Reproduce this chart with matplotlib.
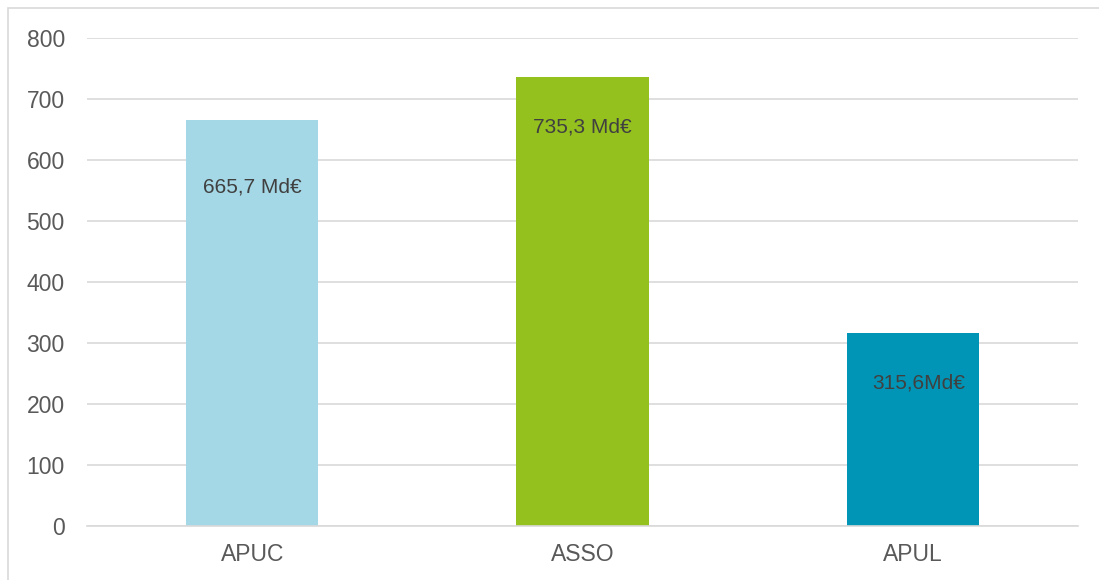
import matplotlib.pyplot as plt
from matplotlib.patches import Rectangle

categories = ['APUC', 'ASSO', 'APUL']
values = [665.7, 735.3, 315.6]
bar_labels = ['665,7 Md€', '735,3 Md€', '315,6Md€']
colors = ['#A5D8E6', '#95C11F', '#0095B6']
yticks = [0, 100, 200, 300, 400, 500, 600, 700, 800]

plt.rcParams['font.family'] = ['Liberation Sans', 'DejaVu Sans']

fig = plt.figure(figsize=(10.99, 5.80), dpi=100)
ax = fig.add_axes([87 / 1099, 1 - 526 / 580, (1078 - 87) / 1099, (526 - 38) / 580])

x = range(len(categories))
bars = ax.bar(x, values, width=0.4, color=colors, zorder=2)

# labels inside the bars, near the top
for i, (b, lab) in enumerate(zip(bars, bar_labels)):
    dx = 6 if i == 2 else 0
    ax.annotate(lab, (b.get_x() + b.get_width() / 2, b.get_height()),
                xytext=(dx, -67 if i == 0 else -50), textcoords='offset pixels',
                ha='center', va='center', fontsize=15, color='#404040')

ax.set_xlim(-0.5, 2.5)
ax.set_ylim(0, 800)
ax.set_yticks(yticks)
ax.set_xticks(list(x))
ax.set_xticklabels(categories)
ax.yaxis.grid(True, color='#D9D9D9', linewidth=1.2, zorder=0)
ax.set_axisbelow(True)
for s in ['top', 'right', 'left']:
    ax.spines[s].set_visible(False)
ax.spines['bottom'].set_color('#D9D9D9')
ax.spines['bottom'].set_linewidth(1.2)
ax.tick_params(axis='y', length=0, pad=16, labelsize=16.5, labelcolor='#595959')
ax.tick_params(axis='x', length=0, pad=12, labelsize=16.5, labelcolor='#595959')

# outer chart border (cut off on the right and bottom)
fig.patches.append(Rectangle((8 / 1099, -0.1), 1.1, 1.1 - 8 / 580,
                             transform=fig.transFigure, fill=False,
                             edgecolor='#D9D9D9', linewidth=1.2))

fig.savefig('out.png', dpi=100)
